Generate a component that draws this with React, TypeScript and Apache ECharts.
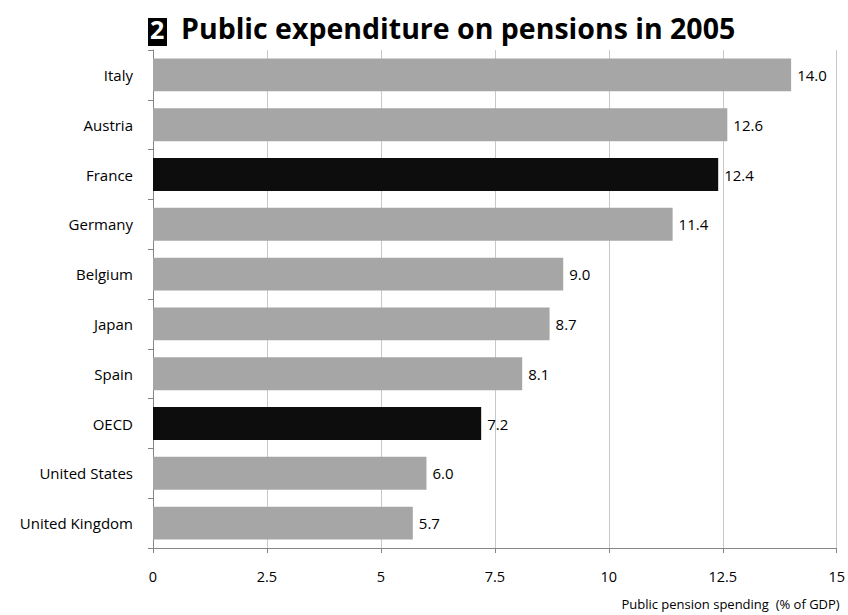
import React, { useEffect, useRef } from "react";
import * as echarts from "echarts";

const categories = ["Italy", "Austria", "France", "Germany", "Belgium", "Japan", "Spain", "OECD", "United States", "United Kingdom"];
const values = [14.0, 12.6, 12.4, 11.4, 9.0, 8.7, 8.1, 7.2, 6.0, 5.7];
const highlighted = ["France", "OECD"];
const xTicks = [0, 2.5, 5, 7.5, 10, 12.5, 15];

const FONT = "'Open Sans', 'Liberation Sans', sans-serif";

export default function App() {
  const ref = useRef<HTMLDivElement>(null);
  useEffect(() => {
    if (!ref.current) return;
    const chart = echarts.init(ref.current, null, { renderer: "svg" });
    chart.setOption({
      animation: false,
      backgroundColor: "#ffffff",
      textStyle: { fontFamily: FONT },
      graphic: [
        { type: "rect", left: 148, top: 18, shape: { width: 19, height: 28 }, style: { fill: "#000" } },
        { type: "text", left: 150, top: 16, style: { text: "2", fill: "#fff", font: `bold 25px ${FONT}` } },
        { type: "text", left: 181, top: 13, style: { text: "Public expenditure on pensions in 2005", fill: "#000", font: `bold 28.5px ${FONT}` } },
      ],
      grid: { left: 153, right: 8, top: 50, bottom: 67, containLabel: false },
      xAxis: {
        type: "value",
        min: 0,
        max: 15,
        interval: 2.5,
        name: "Public pension spending  (% of GDP)",
        nameLocation: "end",
        nameGap: 0,
        nameTextStyle: { fontSize: 13, color: "#000", align: "right", verticalAlign: "top", padding: [49, -3, 0, 0], fontFamily: FONT },
        axisLine: { show: true, lineStyle: { color: "#868686", width: 1 } },
        axisTick: { show: true, length: 5, lineStyle: { color: "#868686" } },
        axisLabel: { color: "#000", fontSize: 14.5, margin: 21, formatter: (v: number) => (xTicks.includes(v) ? String(v) : "") },
        splitLine: { show: true, lineStyle: { color: "#c8c8c8", width: 1 } },
      },
      yAxis: {
        type: "category",
        data: categories,
        inverse: true,
        axisLine: { show: true, lineStyle: { color: "#868686", width: 1 } },
        axisTick: { show: true, length: 5, lineStyle: { color: "#868686" } },
        axisLabel: { color: "#000", fontSize: 15, margin: 20 },
      },
      series: [
        {
          type: "bar",
          barCategoryGap: "34%",
          data: categories.map((c, i) => ({
            value: values[i],
            itemStyle: { color: highlighted.includes(c) ? "#0d0d0d" : "#a6a6a6" },
          })),
          label: {
            show: true,
            position: "right",
            distance: 6,
            color: "#000",
            fontSize: 15,
            formatter: (p: any) => Number(p.value).toFixed(1),
          },
        },
      ],
    });
    return () => chart.dispose();
  }, []);
  return <div ref={ref} style={{ width: 848, height: 615, position: "absolute", left: 0, top: 0 }} />;
}
